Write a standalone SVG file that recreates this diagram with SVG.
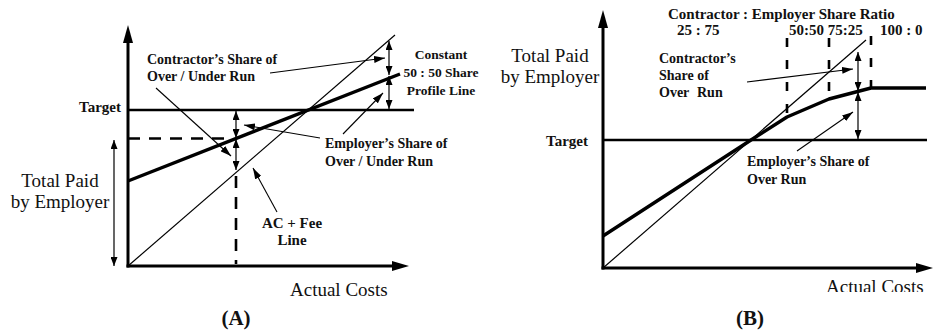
<svg xmlns="http://www.w3.org/2000/svg" width="935" height="330" viewBox="0 0 935 330">
  <style>
    text { font-family: "Liberation Serif", "Times New Roman", serif; fill: #111; }
    .lbl { font-weight: bold; font-size: 14px; }
    .big { font-size: 19px; }
    .cap { font-weight: bold; font-size: 21px; }
    .axis { stroke: #000; stroke-width: 3; fill: none; }
    .target { stroke: #000; stroke-width: 2.4; fill: none; }
    .share { stroke: #000; stroke-width: 3.4; fill: none; stroke-linejoin: round; }
    .thin { stroke: #000; stroke-width: 1.2; fill: none; }
    .dash { stroke: #000; stroke-width: 2.6; fill: none; stroke-dasharray: 12 9; }
    .dashB { stroke: #000; stroke-width: 2.6; fill: none; stroke-dasharray: 9 13; }
    .dbl { stroke: #000; stroke-width: 1.2; fill: none; marker-start: url(#tip); marker-end: url(#tip); }
    .lead { stroke: #000; stroke-width: 1.1; fill: none; marker-end: url(#lead); }
  </style>
  <defs>
    <marker id="axisHead" markerUnits="userSpaceOnUse" markerWidth="18" markerHeight="10" refX="0" refY="5" orient="auto">
      <path d="M0,0 L18,5 L0,10 z" fill="#000"/>
    </marker>
    <marker id="tip" markerUnits="userSpaceOnUse" markerWidth="9" markerHeight="7" refX="9" refY="3.5" orient="auto-start-reverse">
      <path d="M0,0 L9,3.5 L0,7 z" fill="#000"/>
    </marker>
    <marker id="lead" markerUnits="userSpaceOnUse" markerWidth="11" markerHeight="7" refX="11" refY="3.5" orient="auto">
      <path d="M0,0 L11,3.5 L0,7 z" fill="#000"/>
    </marker>
    <clipPath id="bottomCut">
      <rect x="0" y="0" width="935" height="292"/>
    </clipPath>
  </defs>

  <!-- Panel A: constant 50:50 share -->
  <g id="panelA-axes">
    <line class="axis" x1="128" y1="267.5" x2="128" y2="43"/>
    <line class="axis" x1="126.5" y1="266" x2="392" y2="266"/>
    <path d="M128,25 L123,43 L133,43 z" fill="#000"/>
    <path d="M409,266 L392,261 L392,271 z" fill="#000"/>
  </g>
  <g id="panelA-target">
    <line class="target" x1="128" y1="110" x2="414" y2="110"/>
    <text class="lbl" x="121" y="112" text-anchor="end" style="font-size:15px">Target</text>
  </g>
  <g id="panelA-lines">
    <line class="thin" x1="128" y1="266" x2="395" y2="35"/>
    <line class="share" x1="128" y1="181" x2="400" y2="74"/>
  </g>
  <g id="panelA-connectors">
    <line class="dash" x1="128" y1="138.5" x2="232" y2="138.5"/>
    <line class="dash" x1="236" y1="176" x2="236" y2="264"/>
    <line class="dbl" x1="236" y1="111" x2="236" y2="138"/>
    <line class="dbl" x1="236" y1="139" x2="236" y2="170"/>
    <line class="dbl" x1="389" y1="41" x2="389" y2="75"/>
    <line class="dbl" x1="389" y1="76" x2="389" y2="109"/>
    <line class="dbl" x1="114" y1="140" x2="114" y2="266"/>
    <line class="lead" x1="270" y1="73" x2="385" y2="58"/>
    <line class="lead" x1="156" y1="88" x2="231" y2="156"/>
    <line class="lead" x1="320" y1="138" x2="244" y2="125"/>
    <line class="lead" x1="343" y1="134" x2="383" y2="93"/>
    <line class="lead" x1="277" y1="212" x2="253" y2="168"/>
  </g>
  <g id="panelA-labels">
    <text class="lbl" x="147" y="64">Contractor’s Share of</text>
    <text class="lbl" x="147" y="81">Over / Under Run</text>
    <text class="lbl" x="325" y="148">Employer’s Share of</text>
    <text class="lbl" x="325" y="166">Over / Under Run</text>
    <text class="lbl" x="441" y="59" text-anchor="middle" style="font-size:13.5px">Constant</text>
    <text class="lbl" x="441" y="77" text-anchor="middle" style="font-size:13.5px">50 : 50 Share</text>
    <text class="lbl" x="441" y="95" text-anchor="middle" style="font-size:13.5px">Profile Line</text>
    <text class="lbl" x="292" y="228" text-anchor="middle" style="font-size:15px">AC + Fee</text>
    <text class="lbl" x="292" y="245" text-anchor="middle" style="font-size:15px">Line</text>
    <text class="big" x="60" y="187" text-anchor="middle">Total Paid</text>
    <text class="big" x="60" y="208" text-anchor="middle">by Employer</text>
    <text class="big" x="290" y="296">Actual Costs</text>
    <text class="cap" x="236" y="325" text-anchor="middle">(A)</text>
  </g>

  <!-- Panel B: stepped share ratios -->
  <g id="panelB-axes">
    <line class="axis" x1="603" y1="269.5" x2="603" y2="28"/>
    <line class="axis" x1="601.5" y1="268" x2="916" y2="268"/>
    <path d="M603,10 L598,28 L608,28 z" fill="#000"/>
    <path d="M933,268 L916,263 L916,273 z" fill="#000"/>
  </g>
  <g id="panelB-target">
    <line class="target" x1="603" y1="140" x2="927" y2="140"/>
    <text class="lbl" x="588" y="146" text-anchor="end" style="font-size:15px">Target</text>
  </g>
  <g id="panelB-lines">
    <line class="thin" x1="603" y1="268" x2="866" y2="40"/>
    <polyline class="share" points="603,236 751,140 787,117 829,99 871,88 926,88"/>
  </g>
  <g id="panelB-connectors">
    <line class="dashB" x1="787" y1="38" x2="787" y2="117"/>
    <line class="dashB" x1="829" y1="38" x2="829" y2="99"/>
    <line class="dashB" x1="871" y1="36" x2="871" y2="88"/>
    <line class="dbl" x1="858" y1="52" x2="858" y2="91"/>
    <line class="dbl" x1="858" y1="92" x2="858" y2="139"/>
    <line class="lead" x1="747" y1="82" x2="853" y2="69"/>
    <line class="lead" x1="797" y1="151" x2="853" y2="112"/>
  </g>
  <g id="panelB-labels">
    <text class="lbl" x="668" y="19" style="font-size:15px">Contractor : Employer Share Ratio</text>
    <text class="lbl" x="677" y="35" style="font-size:15px">25 : 75</text>
    <text class="lbl" x="789" y="35" style="font-size:15px">50:50 75:25</text>
    <text class="lbl" x="880" y="35" style="font-size:15px">100 : 0</text>
    <text class="lbl" x="659" y="63">Contractor’s</text>
    <text class="lbl" x="659" y="80">Share of</text>
    <text class="lbl" x="659" y="97">Over<tspan x="697">Run</tspan></text>
    <text class="lbl" x="747" y="166">Employer’s Share of</text>
    <text class="lbl" x="747" y="184">Over Run</text>
    <text class="big" x="550" y="62" text-anchor="middle">Total Paid</text>
    <text class="big" x="550" y="83" text-anchor="middle">by Employer</text>
    <text class="big" x="826" y="293" clip-path="url(#bottomCut)">Actual Costs</text>
    <text class="cap" x="750" y="325" text-anchor="middle">(B)</text>
  </g>
</svg>
